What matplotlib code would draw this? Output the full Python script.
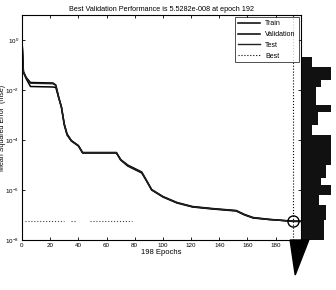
import numpy as np
import matplotlib
matplotlib.use("Agg")
import matplotlib.pyplot as plt

# ---- data ----
epochs_key = [0, 1, 3, 6, 22, 24, 26, 28, 30, 32, 35, 40, 43, 67, 70, 75, 85, 88, 92,
              100, 110, 121, 135, 152, 158, 164, 175, 192, 198]
train_log = [0.0, -1.30, -1.55, -1.86, -1.88, -1.90, -2.30, -2.70, -3.40, -3.80, -4.04,
             -4.24, -4.52, -4.52, -4.80, -5.04, -5.32, -5.60, -6.00, -6.28, -6.52,
             -6.68, -6.76, -6.84, -7.00, -7.12, -7.18, -7.24, -7.25]
val_log = [0.0, -1.26, -1.50, -1.70, -1.72, -1.80, -2.28, -2.68, -3.36, -3.76, -4.02,
           -4.22, -4.50, -4.50, -4.78, -5.00, -5.28, -5.58, -5.98, -6.26, -6.50,
           -6.66, -6.74, -6.82, -6.98, -7.10, -7.17, -7.257, -7.26]
test_log = [0.0, -1.27, -1.52, -1.73, -1.75, -1.82, -2.29, -2.69, -3.38, -3.78, -4.03,
            -4.23, -4.51, -4.51, -4.79, -5.02, -5.30, -5.59, -5.99, -6.27, -6.51,
            -6.67, -6.75, -6.83, -6.99, -7.11, -7.18, -7.25, -7.25]
best_epoch = 192
best_perf = 5.5282e-8
best_hline_segments = [(2, 30), (35, 38), (48, 78)]
n_epochs = 198

# scan artefact at right edge (pixel-row bands, extent in figure fraction)
artifact_rows = [57, 67, 80, 87, 105, 112, 125, 135, 150, 165, 178, 185, 195, 205, 220, 240]
artifact_ext = [0.30, 0.85, 0.55, 0.40, 0.85, 0.48, 0.30, 0.85, 0.85, 0.70, 0.55, 0.85,
                0.50, 0.70, 0.65, 0.55]

xticks = [0, 20, 40, 60, 80, 100, 120, 140, 160, 180]
yticks = [1e-8, 1e-6, 1e-4, 1e-2, 1e0]

plt.rcParams['font.family'] = ['Liberation Sans', 'DejaVu Sans']

W, H = 336, 290
fig = plt.figure(figsize=(W / 100, H / 100), dpi=100)
ax = fig.add_axes([22 / W, 1 - 240 / H, (301 - 22) / W, (240 - 15) / H])

x = np.array(epochs_key, dtype=float)
ax.plot(x, 10 ** np.array(train_log), color='black', lw=1.1, label='Train')
ax.plot(x, 10 ** np.array(val_log), color='black', lw=1.1, label='Validation')
ax.plot(x, 10 ** np.array(test_log), color='#222222', lw=1.0, label='Test')
ax.axvline(best_epoch, color='black', ls=':', lw=0.8, label='Best')
for a, b in best_hline_segments:
    ax.plot([a, b], [best_perf, best_perf], color='#444444', ls=':', lw=0.8)
ax.plot([best_epoch], [best_perf], 'o', mfc='none', mec='black', ms=8, mew=1.0)

ax.set_yscale('log')
ax.set_xlim(0, n_epochs)
ax.set_ylim(1e-8, 1e1)
ax.set_xticks(xticks)
ax.set_xticklabels([str(t) for t in xticks])
ax.set_yticks(yticks)
ax.yaxis.set_minor_locator(matplotlib.ticker.NullLocator())
ax.tick_params(direction='in', labelsize=4.5, length=2.5, width=0.6, pad=2,
               top=True, right=True)
for s in ax.spines.values():
    s.set_linewidth(0.8)

ax.set_title('Best Validation Performance is 5.5282e-008 at epoch 192',
             fontsize=5.2, pad=3)
ax.set_xlabel('198 Epochs', fontsize=5.5, labelpad=1)
ax.set_ylabel('Mean Squared Error  (mse)', fontsize=5.0)
ax.yaxis.set_label_coords(-0.058, 0.5)

leg = ax.legend(loc='upper right', fontsize=5, frameon=True, fancybox=False,
                handlelength=3.2, borderpad=0.4, labelspacing=0.55,
                borderaxespad=0.35, edgecolor='black')
leg.get_frame().set_linewidth(0.6)

# artefact bands on the right margin
art = fig.add_axes([302 / W, 0, (W - 302) / W, 1])
art.axis('off')
art.set_xlim(0, 1)
art.set_ylim(H, 0)
for i in range(len(artifact_rows) - 1):
    y0 = artifact_rows[i]
    y1 = artifact_rows[i + 1]
    art.barh((y0 + y1) / 2, artifact_ext[i], height=(y1 - y0), left=0,
             color='#111111', align='center')
art.fill([-0.35, 0.2, -0.2], [240, 240, 275], color='black', clip_on=False)

fig.savefig('out.png', dpi=100)
